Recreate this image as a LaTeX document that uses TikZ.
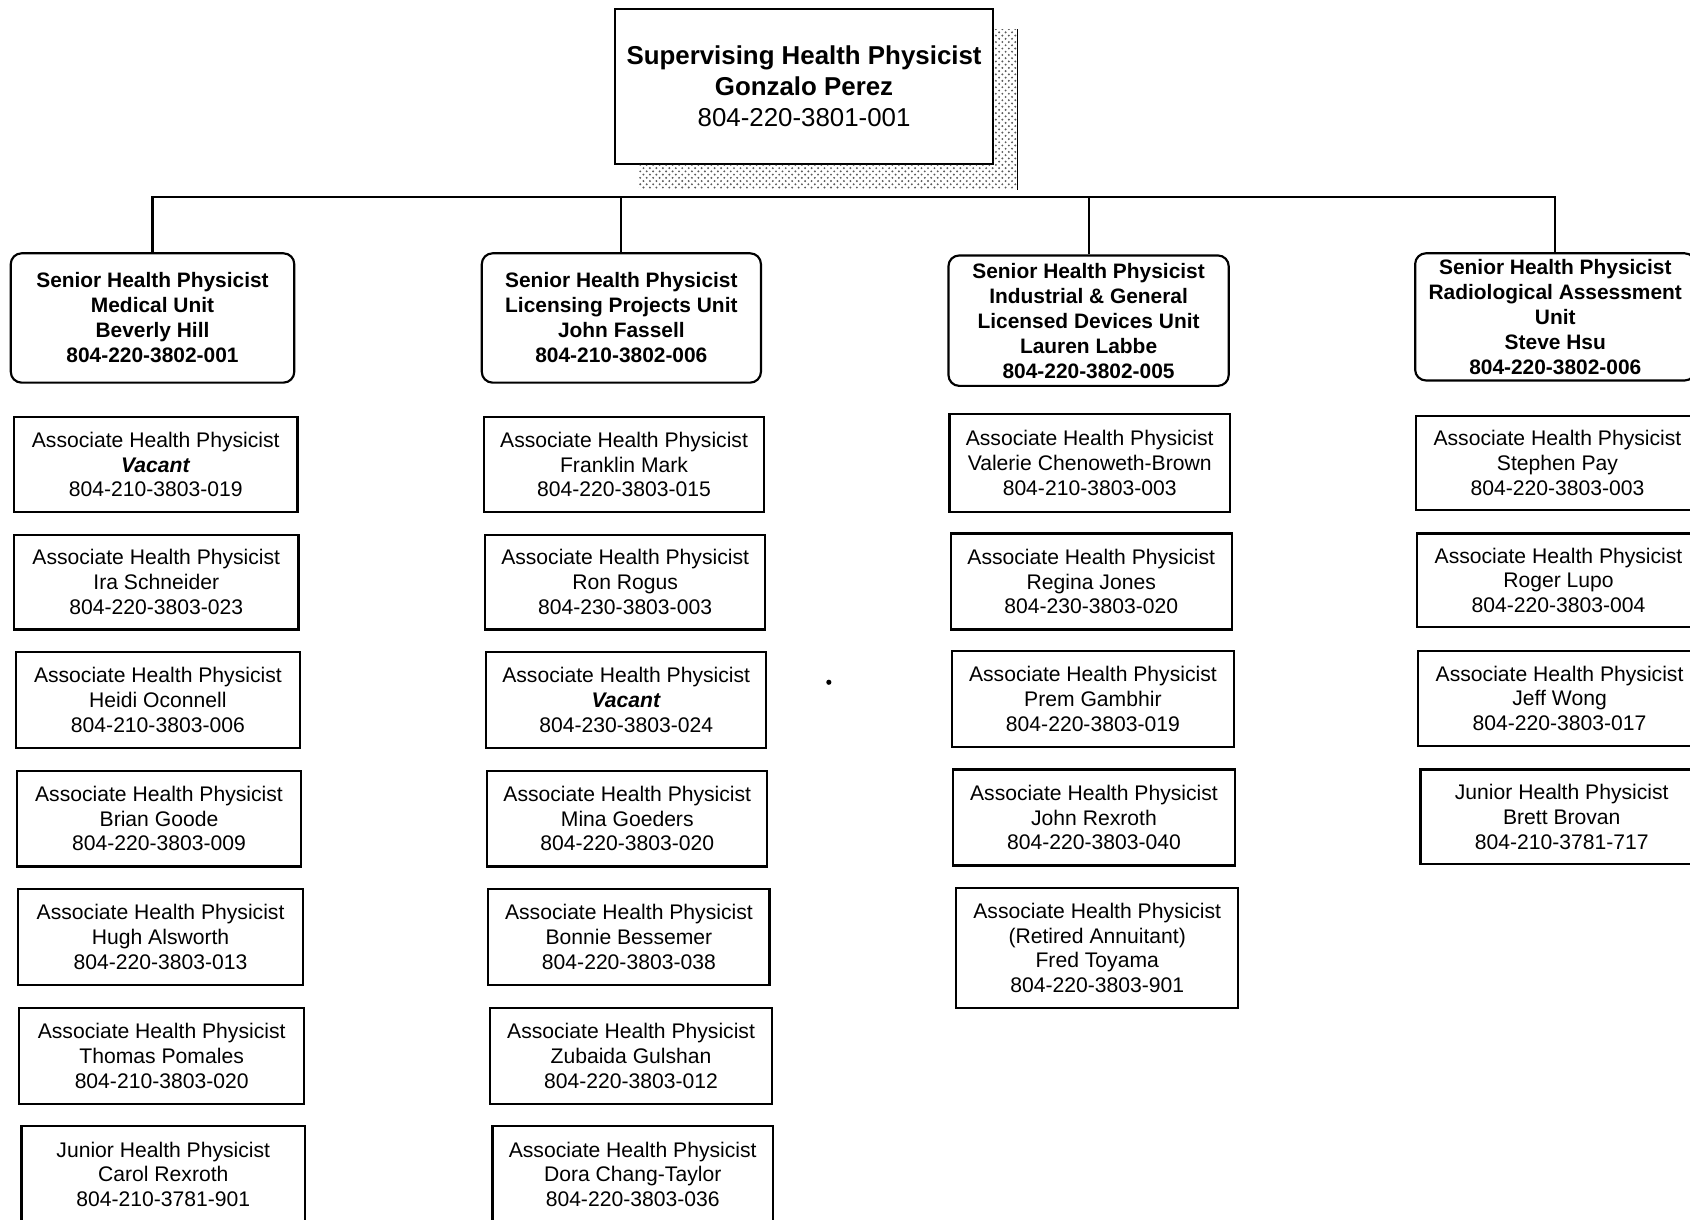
\documentclass[tikz,border=0pt]{standalone}
\usepackage{fontspec}
\setmainfont{Liberation Sans}
\usetikzlibrary{patterns,calc}
\begin{document}
\begin{tikzpicture}[x=0.5pt,y=-0.5pt,
  assoc/.style={draw,line width=1pt,fill=white,inner sep=0pt,align=center,
    minimum width=131pt,minimum height=44pt,font=\fontsize{9.8}{11.5}\selectfont},
  senior/.style={draw,line width=1pt,fill=white,inner sep=0pt,align=center,rounded corners=5pt,
    minimum width=130pt,minimum height=60pt,font=\bfseries\fontsize{9.7}{11.6}\selectfont},
  chief/.style={draw,line width=0.9pt,fill=white,inner sep=0pt,align=center,
    minimum width=175pt,minimum height=72pt,font=\bfseries\fontsize{12}{14.5}\selectfont},
  conn/.style={line width=1pt},
  shadowfill/.style={pattern=crosshatch dots,pattern color=black!65}
]
\useasboundingbox (0,0) rectangle (1568,1131);
\fill[white] (0,0) rectangle (1568,1131);

% top
\node[chief] (top) at (746,80) {Supervising Health Physicist\\Gonzalo Perez\\\mdseries 804-220-3801-001};
\fill[shadowfill] ($(top.north east)+(0,20)$) -- ($(top.north east)+(22,20)$) -- ($(top.south east)+(22,23)$)
  -- ($(top.south west)+(22,23)$) -- ($(top.south west)+(22,0)$) -- (top.south east) -- cycle;
\draw[line width=0.6pt] ($(top.north east)+(22,20)$) -- ($(top.south east)+(22,23)$);

% seniors
\node[senior,minimum width=131.5pt] (s1) at (141.5,295) {Senior Health Physicist\\Medical Unit\\Beverly Hill\\804-220-3802-001};
\node[senior,minimum width=129.5pt] (s2) at (576.5,295) {Senior Health Physicist\\Licensing Projects Unit\\John Fassell\\804-210-3802-006};
\node[senior,minimum height=60.5pt] (s3) at (1010,297.5) {Senior Health Physicist\\Industrial \& General\\Licensed Devices Unit\\Lauren Labbe\\804-220-3802-005};
\node[senior,minimum height=59pt] (s4) at (1443,294) {Senior Health Physicist\\Radiological Assessment\\Unit\\Steve Hsu\\804-220-3802-006};

\coordinate (bus) at (0,183);
\draw[conn] (s1.north) -- (s1.north |- bus) -- (s4.north |- bus) -- (s4.north);
\draw[conn] (s2.north) -- (s2.north |- bus);
\draw[conn] (s3.north) -- (s3.north |- bus);

% column 1
\node[assoc,minimum width=131.5pt] (a11) at (144.5,431) {Associate Health Physicist\\\textbf{\textit{Vacant}}\\804-210-3803-019};
\node[assoc,minimum width=132pt] (a12) at (145,540) {Associate Health Physicist\\Ira Schneider\\804-220-3803-023};
\node[assoc,minimum width=131.5pt,minimum height=44.5pt] (a13) at (146.5,649.5) {Associate Health Physicist\\Heidi Oconnell\\804-210-3803-006};
\node[assoc,minimum width=131.5pt,minimum height=44.5pt] (a14) at (147.5,759.5) {Associate Health Physicist\\Brian Goode\\804-220-3803-009};
\node[assoc,minimum width=132pt,minimum height=44.5pt] (a15) at (149,869.5) {Associate Health Physicist\\Hugh Alsworth\\804-220-3803-013};
\node[assoc,minimum width=132pt,minimum height=44.5pt] (a16) at (150,979.5) {Associate Health Physicist\\Thomas Pomales\\804-210-3803-020};
\node[assoc,minimum width=131.5pt,minimum height=44.5pt] (a17) at (151.5,1089.5) {Junior Health Physicist\\Carol Rexroth\\804-210-3781-901};

% column 2
\node[assoc,minimum width=130pt] (a21) at (579,431) {Associate Health Physicist\\Franklin Mark\\804-220-3803-015};
\node[assoc,minimum width=130pt] (a22) at (580,540) {Associate Health Physicist\\Ron Rogus\\804-230-3803-003};
\node[assoc,minimum width=130pt,minimum height=44.5pt] (a23) at (581,649.5) {Associate Health Physicist\\\textbf{\textit{Vacant}}\\804-230-3803-024};
\node[assoc,minimum width=130pt,minimum height=44.5pt] (a24) at (582,759.5) {Associate Health Physicist\\Mina Goeders\\804-220-3803-020};
\node[assoc,minimum width=130.5pt,minimum height=44.5pt] (a25) at (583.5,869.5) {Associate Health Physicist\\Bonnie Bessemer\\804-220-3803-038};
\node[assoc,minimum width=130.5pt,minimum height=44.5pt] (a26) at (585.5,979.5) {Associate Health Physicist\\Zubaida Gulshan\\804-220-3803-012};
\node[assoc,minimum width=130pt,minimum height=44.5pt] (a27) at (587,1089.5) {Associate Health Physicist\\Dora Chang-Taylor\\804-220-3803-036};

% column 3
\node[assoc,minimum width=130pt,minimum height=45.5pt] (a31) at (1011,429.5) {Associate Health Physicist\\Valerie Chenoweth-Brown\\804-210-3803-003};
\node[assoc,minimum width=130.5pt,minimum height=44.5pt] (a32) at (1012.5,539.5) {Associate Health Physicist\\Regina Jones\\804-230-3803-020};
\node[assoc,minimum width=131pt,minimum height=44.5pt] (a33) at (1014,648.5) {Associate Health Physicist\\Prem Gambhir\\804-220-3803-019};
\node[assoc,minimum width=131pt,minimum height=44.5pt] (a34) at (1015,758.5) {Associate Health Physicist\\John Rexroth\\804-220-3803-040};
\node[assoc,minimum width=131pt,minimum height=55.5pt] (a35) at (1018,879.5) {Associate Health Physicist\\(Retired Annuitant)\\Fred Toyama\\804-220-3803-901};

% column 4
\node[assoc,minimum height=43.5pt] (a41) at (1445,429.5) {Associate Health Physicist\\Stephen Pay\\804-220-3803-003};
\node[assoc,minimum height=43.5pt] (a42) at (1446,538.5) {Associate Health Physicist\\Roger Lupo\\804-220-3803-004};
\node[assoc,minimum height=44pt] (a43) at (1447,648) {Associate Health Physicist\\Jeff Wong\\804-220-3803-017};
\node[assoc,minimum height=44pt] (a44) at (1449,758) {Junior Health Physicist\\Brett Brovan\\804-210-3781-717};

% stray mark
\fill (769,633) circle (1.2pt);
\end{tikzpicture}
\end{document}
